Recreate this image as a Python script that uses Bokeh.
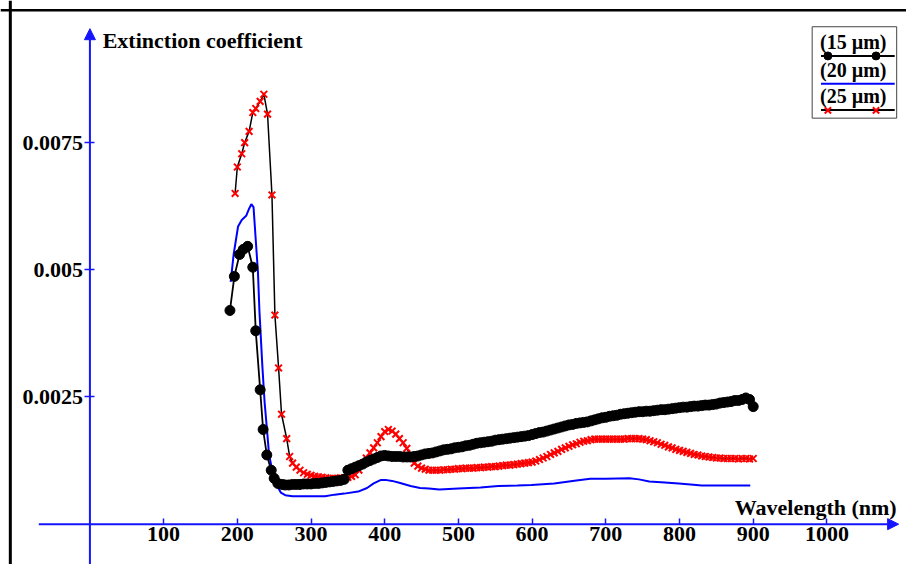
from bokeh.plotting import figure
from bokeh.models import LinearAxis, FixedTicker, Arrow, NormalHead, Label, Span, Range1d
from bokeh.core.properties import value
from bokeh.embed import file_html
from bokeh.resources import INLINE

# ---------------- data ----------------
wl_15 = [190, 196, 203, 208, 214, 221, 225, 231, 235, 240, 246, 250, 255, 261,
         265, 270, 275, 280, 285, 290, 295, 300, 305, 310, 315, 320, 325, 330, 335, 340, 345,
         350, 355, 360, 365, 370, 375, 380, 385, 390, 395, 400, 405, 410, 415, 420, 425, 430,
         435, 440, 445, 450, 455, 460, 465, 470, 475, 480, 485, 490, 495, 500, 505, 510, 515,
         520, 525, 530, 535, 540, 545, 550, 555, 560, 565, 570, 575, 580, 585, 590, 595, 600,
         605, 610, 615, 620, 625, 630, 635, 640, 645, 650, 655, 660, 665, 670, 675, 680, 685,
         690, 695, 700, 705, 710, 715, 720, 725, 730, 735, 740, 745, 750, 755, 760, 765, 770,
         775, 780, 785, 790, 795, 800, 805, 810, 815, 820, 825, 830, 835, 840, 845, 850, 855,
         860, 865, 870, 875, 880, 885, 890, 895, 900]
k_15 = [0.00420, 0.00487, 0.00530, 0.00540, 0.00546, 0.00505, 0.00380, 0.00264, 0.00186,
        0.00136, 0.00106, 0.00090, 0.00080, 0.00078,
        0.00077, 0.00077, 0.00078, 0.00078, 0.00078, 0.00079, 0.00079, 0.00079, 0.00080,
        0.00080, 0.00081, 0.00082, 0.00083, 0.00084, 0.00085, 0.00086, 0.00088,
        0.00106, 0.00109, 0.00112, 0.00115, 0.00118, 0.00122, 0.00125, 0.00128, 0.00131,
        0.00134, 0.00135, 0.00134, 0.00133, 0.00133, 0.00133, 0.00132, 0.00132,
        0.00132, 0.00133, 0.00134, 0.00136, 0.00138, 0.00139, 0.00140, 0.00142, 0.00144,
        0.00146, 0.00147, 0.00148, 0.00150, 0.00151, 0.00152, 0.00154, 0.00155,
        0.00157, 0.00159, 0.00160, 0.00161, 0.00162, 0.00163, 0.00165, 0.00166, 0.00167,
        0.00168, 0.00169, 0.00170, 0.00171, 0.00172, 0.00173, 0.00174, 0.00176,
        0.00178, 0.00180, 0.00181, 0.00183, 0.00185, 0.00187, 0.00189, 0.00191, 0.00193,
        0.00195, 0.00196, 0.00198, 0.00199, 0.00200, 0.00201, 0.00203, 0.00205,
        0.00207, 0.00209, 0.00210, 0.00212, 0.00213, 0.00214, 0.00216, 0.00217, 0.00218,
        0.00219, 0.00220, 0.00221, 0.00221, 0.00222, 0.00222, 0.00223, 0.00224,
        0.00225, 0.00225, 0.00226, 0.00227, 0.00228, 0.00229, 0.00230, 0.00230, 0.00231,
        0.00232, 0.00232, 0.00233, 0.00234, 0.00234, 0.00235, 0.00236, 0.00238,
        0.00239, 0.00240, 0.00241, 0.00243, 0.00243, 0.00245, 0.00248, 0.00245, 0.00231]

wl_20 = [191, 195, 201, 206, 212, 216, 219, 222, 225, 228, 230, 234, 237, 240, 243, 248,
         252, 256, 259, 265, 275, 283, 300, 319, 332, 345, 364, 376, 385, 395, 401, 410,
         421, 435, 448, 460, 474, 500, 530, 554, 580, 599, 630, 660, 679, 700, 732, 745,
         759, 780, 799, 815, 830, 860, 896]
k_20 = [0.00476, 0.00530, 0.00585, 0.00598, 0.00606, 0.00620, 0.00629, 0.00623, 0.00559,
        0.00495, 0.00419, 0.00310, 0.00240, 0.00190, 0.00138, 0.00100, 0.00087, 0.00070,
        0.00062, 0.00057, 0.00055, 0.00055, 0.00055, 0.00055, 0.00058, 0.00060, 0.00064,
        0.00071, 0.00080, 0.00087, 0.00087, 0.00085, 0.00081, 0.00075, 0.00071, 0.00070,
        0.00068, 0.00070, 0.00072, 0.00075, 0.00076, 0.00077, 0.00080, 0.00086, 0.00089,
        0.00089, 0.00090, 0.00088, 0.00084, 0.00082, 0.00080, 0.00078, 0.00076, 0.00076,
        0.00076]

wl_25 = [197, 200, 206, 210, 216, 221, 225, 231, 236, 241, 247, 251, 256, 260, 267, 271,
         275, 280, 285, 290, 295, 300, 305, 310, 315, 320, 325, 330, 335, 340, 345, 350,
         355, 360, 365, 370, 375, 380, 385, 390, 395, 400, 405, 410, 415, 420, 425, 430,
         435, 440, 445, 450, 455, 460, 465, 470, 475, 480, 485, 490, 495, 500, 505, 510,
         515, 520, 525, 530, 535, 540, 545, 550, 555, 560, 565, 570, 575, 580, 585, 590,
         595, 600, 605, 610, 615, 620, 625, 630, 635, 640, 645, 650, 655, 660, 665, 670,
         675, 680, 685, 690, 695, 700, 705, 710, 715, 720, 725, 730, 735, 740, 745, 750,
         755, 760, 765, 770, 775, 780, 785, 790, 795, 800, 805, 810, 815, 820, 825, 830,
         835, 840, 845, 850, 855, 860, 865, 870, 875, 880, 885, 890, 895, 900]
k_25 = [0.00650, 0.00702, 0.00728, 0.00750, 0.00772, 0.00809, 0.00817, 0.00831, 0.00845,
        0.00806, 0.00647, 0.00411, 0.00307, 0.00216, 0.00168, 0.00133,
        0.00120, 0.00112, 0.00106, 0.00101, 0.00098, 0.00096, 0.00094, 0.00093, 0.00092,
        0.00091, 0.00090, 0.00090, 0.00090, 0.00091, 0.00091, 0.00092,
        0.00094, 0.00097, 0.00106, 0.00118, 0.00130, 0.00140, 0.00150, 0.00160, 0.00172,
        0.00182, 0.00186, 0.00183, 0.00177, 0.00168, 0.00160, 0.00149,
        0.00135, 0.00120, 0.00114, 0.00110, 0.00108, 0.00106, 0.00106, 0.00106, 0.00106,
        0.00107, 0.00107, 0.00108, 0.00108, 0.00109, 0.00109, 0.00110,
        0.00110, 0.00110, 0.00111, 0.00111, 0.00112, 0.00112, 0.00113, 0.00113, 0.00114,
        0.00115, 0.00116, 0.00116, 0.00117, 0.00118, 0.00119, 0.00120,
        0.00121, 0.00122, 0.00124, 0.00127, 0.00130, 0.00133, 0.00137, 0.00140, 0.00143,
        0.00147, 0.00150, 0.00153, 0.00156, 0.00158, 0.00161, 0.00163,
        0.00164, 0.00166, 0.00167, 0.00167, 0.00167, 0.00167, 0.00167, 0.00167, 0.00167,
        0.00167, 0.00167, 0.00168, 0.00168, 0.00168, 0.00168, 0.00167,
        0.00166, 0.00164, 0.00162, 0.00160, 0.00157, 0.00155, 0.00152, 0.00150, 0.00147,
        0.00145, 0.00143, 0.00141, 0.00139, 0.00137, 0.00136, 0.00134,
        0.00133, 0.00132, 0.00131, 0.00130, 0.00130, 0.00129, 0.00129, 0.00129, 0.00129,
        0.00128, 0.00129, 0.00129, 0.00128, 0.00129]

x_ticks = [100, 200, 300, 400, 500, 600, 700, 800, 900, 1000]
x_tick_labels = ["100", "200", "300", "400", "500", "600", "700", "800", "900", "1000"]
y_ticks = [0.0025, 0.005, 0.0075]
y_tick_labels = ["0.0025", "0.005", "0.0075"]
legend_labels = ["(15 \u00b5m)", "(20 \u00b5m)", "(25 \u00b5m)"]
x_title = "Wavelength (nm)"
y_title = "Extinction coefficient"

# ---------------- layout helpers (reference pixels -> data) ----------------
W, H = 906, 564
REF_W, REF_H = 922, 580
X0_PX, PX_PER_NM = 91.0, 0.75
Y0_PX, PX_PER_UNIT = 538.5, 52320.0


def dx(px):
    return (px - X0_PX) / PX_PER_NM


def dy(py):
    return (Y0_PX - py) / PX_PER_UNIT


FONT = value("Liberation Serif")
AXIS_BLUE = "#1414ff"

p = figure(width=W, height=H,
           x_range=Range1d(dx(0), dx(REF_W)),
           y_range=Range1d(dy(REF_H), dy(0)),
           output_backend="svg", toolbar_location=None,
           x_axis_location=None, y_axis_location=None,
           min_border=0, background_fill_color="white", border_fill_color="white")
p.xgrid.visible = False
p.ygrid.visible = False
p.outline_line_color = None

# ---------------- axes ----------------
xax = LinearAxis(fixed_location=0, ticker=FixedTicker(ticks=x_ticks),
                 major_label_overrides={t: l for t, l in zip(x_ticks, x_tick_labels)})
xax.axis_line_color = None
xax.major_tick_line_color = AXIS_BLUE
xax.major_tick_line_width = 1.5
xax.major_tick_in = 6
xax.major_tick_out = 0
xax.minor_tick_line_color = None
xax.major_label_text_font = "Liberation Serif"
xax.major_label_text_font_style = "bold"
xax.major_label_text_font_size = "22px"
xax.major_label_text_color = "black"
xax.major_label_standoff = 3
p.add_layout(xax, "below")

yax = LinearAxis(fixed_location=0, ticker=FixedTicker(ticks=y_ticks),
                 major_label_overrides={t: l for t, l in zip(y_ticks, y_tick_labels)})
yax.axis_line_color = None
yax.major_tick_line_color = AXIS_BLUE
yax.major_tick_line_width = 1.5
yax.major_tick_in = 5
yax.major_tick_out = 5
yax.minor_tick_line_color = None
yax.major_label_text_font = "Liberation Serif"
yax.major_label_text_font_style = "bold"
yax.major_label_text_font_size = "22px"
yax.major_label_text_color = "black"
yax.major_label_standoff = 2
yax.major_label_orientation = "horizontal"
p.add_layout(yax, "left")

p.add_layout(Arrow(end=NormalHead(size=11, fill_color=AXIS_BLUE, line_color=AXIS_BLUE),
                   x_start=dx(39), y_start=0, x_end=dx(914), y_end=0,
                   line_color=AXIS_BLUE, line_width=2))
p.add_layout(Arrow(end=NormalHead(size=11, fill_color=AXIS_BLUE, line_color=AXIS_BLUE),
                   x_start=0, y_start=dy(590), x_end=0, y_end=dy(29),
                   line_color=AXIS_BLUE, line_width=2))

p.add_layout(Label(x=dx(104), y=dy(41.5), text=y_title, text_font="Liberation Serif",
                   text_font_style="bold", text_font_size="22px", text_baseline="middle",
                   text_align="left", text_color="black"))
p.add_layout(Label(x=dx(912), y=dy(521.5), text=x_title, text_font="Liberation Serif",
                   text_font_style="bold", text_font_size="22px", text_baseline="middle",
                   text_align="right", text_color="black"))

# outer frame (left and top edges visible)
p.add_layout(Span(location=dx(10), dimension="height", line_color="black", line_width=3))
p.add_layout(Span(location=dy(10), dimension="width", line_color="black", line_width=2.5))

# ---------------- series ----------------
p.line(wl_20, k_20, line_color="#0000ff", line_width=2)
p.line(wl_25, k_25, line_color="black", line_width=1.5)
p.scatter(wl_25, k_25, marker="x", size=9.5, line_color="red", line_width=2)
p.line(wl_15, k_15, line_color="black", line_width=1.8)
p.scatter(wl_15, k_15, marker="circle", size=10, fill_color="black", line_color="black")

# ---------------- legend (drawn by hand) ----------------
p.quad(left=[dx(826)], right=[dx(912)], top=[dy(27)], bottom=[dy(121)],
       fill_color="white", line_color="#444444", line_width=1)
leg_text_y = [dy(42.5), dy(71), dy(98.5)]
p.text(x=[dx(834)] * 3, y=leg_text_y, text=legend_labels, text_font=FONT,
       text_font_style="bold", text_font_size="20px", text_baseline="middle",
       text_align="left", text_color="black")
p.line([dx(835), dx(910)], [dy(57), dy(57)], line_color="black", line_width=2)
p.scatter([dx(842), dx(891)], [dy(57), dy(57)], marker="circle", size=8,
          fill_color="black", line_color="black")
p.line([dx(835), dx(910)], [dy(85.5), dy(85.5)], line_color="#0000ff", line_width=2)
p.line([dx(835), dx(910)], [dy(112.5), dy(112.5)], line_color="black", line_width=2)
p.scatter([dx(842), dx(891)], [dy(113), dy(113)], marker="x", size=9,
          line_color="red", line_width=2)

open("out.html", "w").write(file_html(p, INLINE))
